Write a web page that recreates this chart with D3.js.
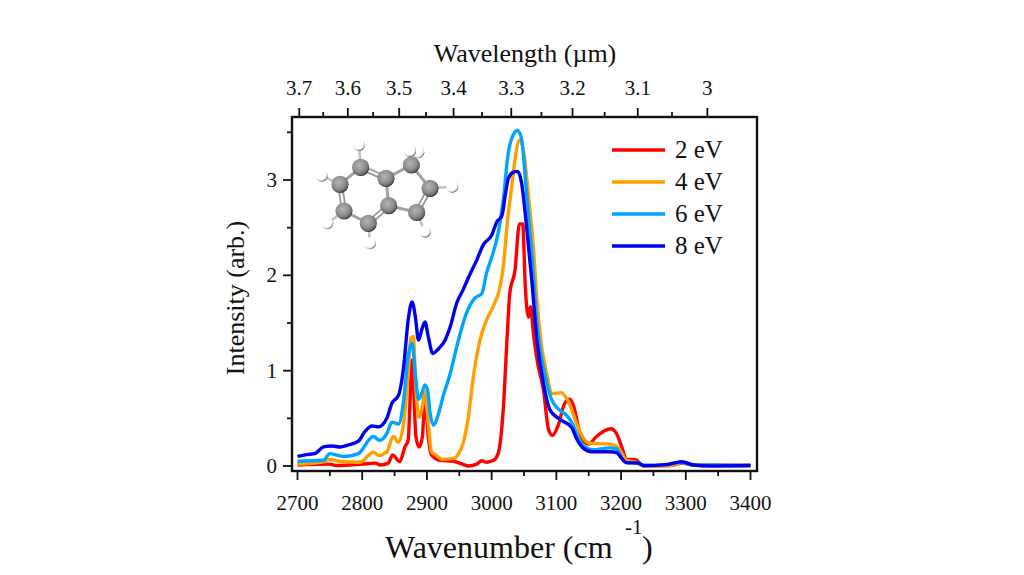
<!DOCTYPE html>
<html><head><meta charset="utf-8">
<script src="https://cdn.jsdelivr.net/npm/d3@7"></script>
<style>html,body{margin:0;padding:0;background:#fff}svg{display:block}text{font-family:"Liberation Serif",serif;fill:#111}</style>
</head><body><svg id="c" width="1024" height="575"></svg>
<script>
const seriesNames=["2 eV","4 eV","6 eV","8 eV"];
const seriesColors=["#ff0000","#ff9f00","#00a5ff","#0000f0"];
const wn2=[2700,2750,2760,2800,2820,2828,2840,2847,2858,2866,2871,2877,2883,2888,2893,2897,2902,2907,2920,2941,2951,2964,2977,2985,2992,3003,3010,3018,3024,3028,3036,3043,3048,3052,3057,3060,3065,3071,3080,3088,3094,3103,3113,3121,3127,3134,3141,3150,3162,3172,3184,3193,3201,3208,3222,3235,3276,3294,3312,3400];
const v2=[.01,.02,.005,.02,.03,.01,.03,.115,.045,.2,.27,1.11,.31,.2,.31,.73,.31,.115,.06,.05,.03,0,.02,.055,.04,.06,.13,.6,1.36,1.81,2.05,2.54,2.54,1.88,1.56,1.67,1.36,1.08,.8,.38,.32,.43,.66,.7,.62,.41,.27,.23,.31,.36,.39,.34,.2,.07,.065,0,.005,.03,.01,.005];
const wn4=[2700,2740,2750,2765,2797,2817,2825,2838,2848,2856,2864,2871,2875,2879,2883,2888,2893,2897,2902,2907,2915,2923,2941,2949,2956,2964,2972,2982,2992,3002,3013,3018,3024,3031,3036,3043,3049,3057,3064,3070,3078,3083,3094,3107,3121,3131,3141,3150,3183,3196,3208,3222,3235,3276,3294,3312,3400];
const v4=[.02,.045,.07,.05,.04,.145,.11,.15,.31,.25,.45,.97,1.34,1.36,.8,.51,.62,.78,.45,.15,.11,.07,.08,.13,.24,.52,.95,1.32,1.53,1.67,1.88,2.09,2.54,2.93,3.21,3.42,3.32,2.83,2.34,1.74,1.22,1.04,.76,.77,.64,.45,.3,.24,.23,.19,.06,.04,0,.005,.035,.01,.005];
const wn6=[2700,2740,2750,2763,2773,2794,2817,2827,2838,2846,2856,2864,2871,2877,2882,2887,2892,2897,2901,2905,2910,2918,2925,2936,2946,2961,2974,2985,2992,3002,3010,3018,3025,3033,3040,3046,3054,3062,3070,3075,3083,3093,3103,3116,3126,3134,3144,3155,3183,3193,3201,3208,3227,3235,3270,3294,3312,3400];
const v6=[.05,.06,.13,.11,.1,.13,.31,.27,.34,.46,.44,.69,1.15,1.29,.97,.7,.76,.85,.8,.55,.43,.55,.73,.97,1.25,1.6,1.76,1.81,2.02,2.23,2.44,2.79,3.25,3.47,3.52,3.44,2.86,2.23,1.5,1.22,.94,.69,.6,.53,.43,.29,.2,.17,.19,.18,.08,.035,.03,.005,.015,.04,.01,.005];
const wn8=[2700,2714,2727,2740,2753,2766,2778,2794,2804,2815,2825,2838,2846,2856,2864,2871,2877,2882,2887,2892,2897,2902,2909,2918,2928,2936,2946,2956,2967,2977,2987,3000,3008,3016,3021,3026,3033,3040,3046,3054,3062,3070,3080,3090,3103,3124,3131,3141,3155,3183,3193,3201,3208,3227,3235,3270,3294,3312,3335,3400];
const v8=[.1,.12,.13,.2,.21,.2,.22,.26,.36,.42,.41,.5,.66,.74,1.04,1.53,1.72,1.57,1.32,1.43,1.51,1.36,1.18,1.23,1.32,1.46,1.71,1.85,2.02,2.16,2.32,2.42,2.56,2.63,2.84,3.02,3.08,3.09,2.98,2.51,1.95,1.32,.87,.59,.5,.4,.29,.19,.15,.15,.14,.08,.035,.03,.005,.015,.045,.01,0,.005];
const wnSeries=[wn2,wn4,wn6,wn8], vSeries=[v2,v4,v6,v8];
const xMajor=[2700,2800,2900,3000,3100,3200,3300,3400];
const xMinor=[2750,2850,2950,3050,3150,3250,3350];
const yMajor=[0,1,2,3];
const yMinor=[.5,1.5,2.5,3.5];
const lamMajor=[3.7,3.6,3.5,3.4,3.3,3.2,3.1,3];
const lamMinor=[3.65,3.55,3.45,3.35,3.25,3.15,3.05];
const carbonAtoms=[[152,97],[228,130],[304,90],[360,160],[320,232],[236,212],[175,265],[102,228],[90,148]];
const hydrogenAtoms=[[147,30,0],[35,122,8],[52,265,7],[180,325,6],[345,290,4],[427,155,3],[300,48,2],[325,52,2]];
const singleBonds=[[1,2],[2,3],[4,5],[5,1],[6,7],[8,0]];
const doubleBonds=[[0,1],[3,4],[5,6],[7,8]];

const svg=d3.select("#c");
const L=292,R=757,T=117,B=471;
const x=d3.scaleLinear().domain([2700,3400]).range([297.5,750.5]);
const y=d3.scaleLinear().domain([0,3]).range([466,180]);
const inkC="#111";

// molecule
const mx=d3.scaleLinear().domain([0,480]).range([310,470]);
const my=d3.scaleLinear().domain([0,360]).range([135,255]);
const defs=svg.append("defs");
function grad(id,stops){const g=defs.append("radialGradient").attr("id",id).attr("cx","42%").attr("cy","38%").attr("r","62%");
 stops.forEach(s=>g.append("stop").attr("offset",s[0]).attr("stop-color",s[1]));}
grad("gc",[["0","#b4b4b4"],["0.6","#8f8f8f"],["0.88","#6a6a6a"],["1","#2c2c2c"]]);
grad("gh",[["0","#ffffff"],["0.7","#ffffff"],["0.9","#bdbdbd"],["1","#555"]]);
const mol=svg.append("g");
function bond(a,b,off,w,c){
 const dx=b[0]-a[0],dy=b[1]-a[1],n=Math.hypot(dx,dy),ox=-dy/n*off,oy=dx/n*off;
 mol.append("line").attr("x1",mx(a[0]+ox)).attr("y1",my(a[1]+oy)).attr("x2",mx(b[0]+ox)).attr("y2",my(b[1]+oy)).attr("stroke",c).attr("stroke-width",w);
}
hydrogenAtoms.forEach(h=>bond(h,carbonAtoms[h[2]],0,2.6,"#c4c4c4"));
singleBonds.forEach(p=>bond(carbonAtoms[p[0]],carbonAtoms[p[1]],0,3,"#a2a2a2"));
doubleBonds.forEach(p=>{[-6,6].forEach(o=>bond(carbonAtoms[p[0]],carbonAtoms[p[1]],o,1.8,"#999"));});
[...hydrogenAtoms].reverse().forEach(h=>mol.append("circle").attr("cx",mx(h[0])).attr("cy",my(h[1])).attr("r",6).attr("fill","url(#gh)"));
carbonAtoms.forEach(c=>mol.append("circle").attr("cx",mx(c[0])).attr("cy",my(c[1])).attr("r",8.6).attr("fill","url(#gc)"));
mol.append("circle").attr("cx",mx(hydrogenAtoms[6][0])).attr("cy",my(hydrogenAtoms[6][1])).attr("r",6).attr("fill","url(#gh)");

// curves
const line=d3.line().x(d=>x(d[0])).y(d=>y(d[1])).curve(d3.curveMonotoneX);
seriesNames.forEach((n,i)=>{
 svg.append("path").datum(d3.zip(wnSeries[i],vSeries[i])).attr("d",line).attr("fill","none")
  .attr("stroke",seriesColors[i]).attr("stroke-width",3.4).attr("stroke-linejoin","round");
});

// frame and ticks
svg.append("rect").attr("x",L).attr("y",T).attr("width",R-L).attr("height",B-T).attr("fill","none").attr("stroke",inkC).attr("stroke-width",2.4);
const tick=(x1,y1,x2,y2)=>svg.append("line").attr("x1",x1).attr("y1",y1).attr("x2",x2).attr("y2",y2).attr("stroke",inkC).attr("stroke-width",1.8);
xMajor.forEach(v=>{tick(x(v),B,x(v),B+9);
 svg.append("text").attr("x",x(v)).attr("y",510).attr("text-anchor","middle").attr("font-size",21).text(v);});
xMinor.forEach(v=>tick(x(v),B,x(v),B+5));
const wl=l=>x(10000/l);
lamMajor.forEach(v=>{tick(wl(v),T,wl(v),T-9);
 svg.append("text").attr("x",wl(v)).attr("y",95).attr("text-anchor","middle").attr("font-size",21).text(v);});
lamMinor.forEach(v=>tick(wl(v),T,wl(v),T-5));
yMajor.forEach(v=>{tick(L,y(v),L-9,y(v));
 svg.append("text").attr("x",277).attr("y",y(v)+7).attr("text-anchor","end").attr("font-size",21).text(v);});
yMinor.forEach(v=>tick(L,y(v),L-5,y(v)));

// titles
svg.append("text").attr("x",525).attr("y",62).attr("text-anchor","middle").attr("font-size",26).text("Wavelength (µm)");
svg.append("text").attr("transform","translate(244,298) rotate(-90)").attr("text-anchor","middle").attr("font-size",26).text("Intensity (arb.)");
svg.append("text").attr("x",385).attr("y",558).attr("font-size",32).text("Wavenumber (cm");
svg.append("text").attr("x",625).attr("y",534).attr("font-size",21).text("-1");
svg.append("text").attr("x",642).attr("y",558).attr("font-size",32).text(")");

// legend
const lg=d3.scaleBand().domain(seriesNames).range([134,262]);
seriesNames.forEach((n,i)=>{
 const c=lg(n)+lg.bandwidth()/2;
 svg.append("line").attr("x1",612).attr("x2",665).attr("y1",c).attr("y2",c).attr("stroke",seriesColors[i]).attr("stroke-width",3.6);
 svg.append("text").attr("x",675).attr("y",c+8).attr("font-size",25).text(n);
});
</script></body></html>
